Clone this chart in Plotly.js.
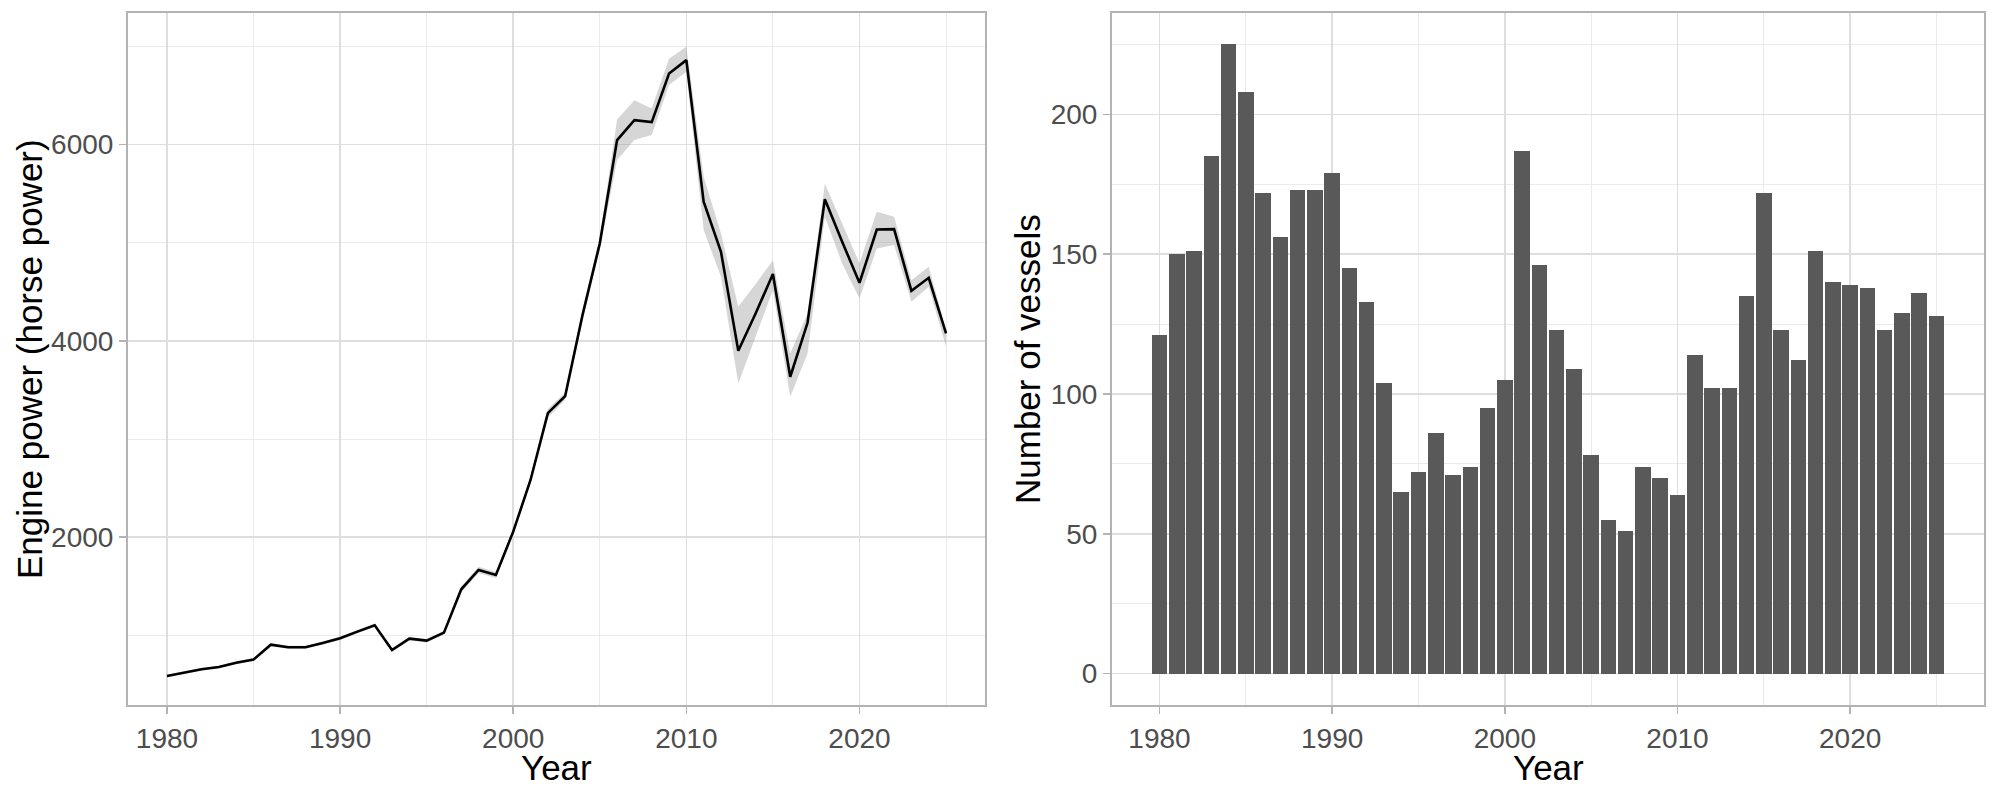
<!DOCTYPE html>
<html>
<head>
<meta charset="utf-8">
<script src="https://cdn.plot.ly/plotly-3.0.1.min.js"></script>
<style>
  html, body { margin: 0; padding: 0; background: #fff; }
  #chart { width: 2000px; height: 800px; }
</style>
</head>
<body>
<div id="chart"></div>
<script>
// years on the x axis of both panels
var years = [1980, 1981, 1982, 1983, 1984, 1985, 1986, 1987, 1988, 1989,
             1990, 1991, 1992, 1993, 1994, 1995, 1996, 1997, 1998, 1999,
             2000, 2001, 2002, 2003, 2004, 2005, 2006, 2007, 2008, 2009,
             2010, 2011, 2012, 2013, 2014, 2015, 2016, 2017, 2018, 2019,
             2020, 2021, 2022, 2023, 2024, 2025];

// mean engine power (hp) and its confidence band
var power = [588, 621, 656, 679, 723, 754, 906, 880, 880, 924,
             971, 1039, 1104, 852, 968, 947, 1029, 1470, 1667, 1616,
             2057, 2583, 3263, 3437, 4260, 4991, 6043, 6246, 6226, 6721,
             6857, 5415, 4906, 3898, 4278, 4679, 3634, 4183, 5442, 5008,
             4590, 5133, 5137, 4509, 4641, 4075];
var powerLow = [575, 608, 643, 666, 709, 740, 890, 865, 865, 909,
                955, 1022, 1086, 835, 950, 929, 1010, 1440, 1635, 1585,
                2025, 2550, 3220, 3400, 4200, 4930, 5840, 6043, 6094, 6603,
                6738, 5127, 4652, 3566, 4040, 4516, 3430, 3871, 5262, 4787,
                4431, 4940, 4974, 4397, 4550, 3939];
var powerHigh = [601, 634, 669, 692, 737, 768, 922, 895, 895, 939,
                 987, 1056, 1122, 869, 986, 965, 1048, 1500, 1699, 1647,
                 2089, 2616, 3306, 3474, 4320, 5052, 6254, 6450, 6365, 6870,
                 6993, 5670, 5093, 4346, 4577, 4821, 3871, 4278, 5602, 5194,
                 4787, 5313, 5262, 4617, 4753, 4109];

// number of vessels per year
var vessels = [121, 150, 151, 185, 225, 208, 172, 156, 173, 173,
               179, 145, 133, 104, 65, 72, 86, 71, 74, 95,
               105, 187, 146, 123, 109, 78, 55, 51, 74, 70,
               64, 114, 102, 102, 135, 172, 123, 112, 151, 140,
               139, 138, 123, 129, 136, 128];

var FONT = 'Liberation Sans, Arial, sans-serif';

var lower = {
  x: years, y: powerLow, xaxis: 'x', yaxis: 'y',
  type: 'scatter', mode: 'lines',
  line: { width: 0, color: 'rgba(0,0,0,0)' },
  hoverinfo: 'skip', showlegend: false
};
var upper = {
  x: years, y: powerHigh, xaxis: 'x', yaxis: 'y',
  type: 'scatter', mode: 'lines', fill: 'tonexty',
  fillcolor: 'rgba(153,153,153,0.4)',
  line: { width: 0, color: 'rgba(0,0,0,0)' },
  hoverinfo: 'skip', showlegend: false
};
var meanLine = {
  x: years, y: power, xaxis: 'x', yaxis: 'y',
  type: 'scatter', mode: 'lines',
  line: { color: '#000000', width: 2.6 },
  showlegend: false
};
var bars = {
  x: years, y: vessels, xaxis: 'x2', yaxis: 'y2',
  type: 'bar', width: 0.9,
  marker: { color: '#595959', line: { width: 0 } },
  showlegend: false
};

// shared look, close to ggplot theme_light
function axisStyle(extra) {
  var a = {
    showline: true, mirror: true, linecolor: '#B3B3B3', linewidth: 2,
    showgrid: true, gridcolor: '#DEDEDE', gridwidth: 1.6,
    zeroline: false,
    ticks: 'outside', ticklen: 7, tickwidth: 1.6, tickcolor: '#B3B3B3',
    tickfont: { family: FONT, size: 28, color: '#4D4D4D' },
    automargin: false
  };
  for (var k in extra) a[k] = extra[k];
  return a;
}

var layout = {
  width: 2000, height: 800,
  margin: { l: 0, r: 0, t: 0, b: 0 },
  paper_bgcolor: '#ffffff', plot_bgcolor: '#ffffff',
  showlegend: false,
  bargap: 0,
  xaxis: axisStyle({
    domain: [0.064, 0.4925], anchor: 'y',
    range: [1977.75, 2027.25], tick0: 1980, dtick: 10,
    minor: { dtick: 5, showgrid: true, gridcolor: '#EBEBEB', gridwidth: 1 }
  }),
  yaxis: axisStyle({
    domain: [0.11875, 0.98375], anchor: 'x',
    range: [292, 7337], tick0: 0, dtick: 2000,
    minor: { dtick: 1000, showgrid: true, gridcolor: '#EBEBEB', gridwidth: 1 }
  }),
  xaxis2: axisStyle({
    domain: [0.556, 0.992], anchor: 'y2',
    range: [1977.25, 2027.75], tick0: 1980, dtick: 10,
    minor: { dtick: 5, showgrid: true, gridcolor: '#EBEBEB', gridwidth: 1 }
  }),
  yaxis2: axisStyle({
    domain: [0.11875, 0.98375], anchor: 'x2',
    range: [-11.25, 236.25], tick0: 0, dtick: 50,
    minor: { dtick: 25, showgrid: true, gridcolor: '#EBEBEB', gridwidth: 1 }
  }),
  annotations: [
    { text: 'Year', xref: 'paper', yref: 'paper', x: 0.278, y: 0.041,
      xanchor: 'center', yanchor: 'middle', showarrow: false,
      font: { family: FONT, size: 35, color: '#000000' } },
    { text: 'Year', xref: 'paper', yref: 'paper', x: 0.774, y: 0.041,
      xanchor: 'center', yanchor: 'middle', showarrow: false,
      font: { family: FONT, size: 35, color: '#000000' } },
    { text: 'Engine power (horse power)', xref: 'paper', yref: 'paper',
      x: 0.0145, y: 0.55125, textangle: -90,
      xanchor: 'center', yanchor: 'middle', showarrow: false,
      font: { family: FONT, size: 35, color: '#000000' } },
    { text: 'Number of vessels', xref: 'paper', yref: 'paper',
      x: 0.5135, y: 0.55125, textangle: -90,
      xanchor: 'center', yanchor: 'middle', showarrow: false,
      font: { family: FONT, size: 35, color: '#000000' } }
  ]
};

Plotly.newPlot('chart', [lower, upper, meanLine, bars], layout, { staticPlot: true });
</script>
</body>
</html>
